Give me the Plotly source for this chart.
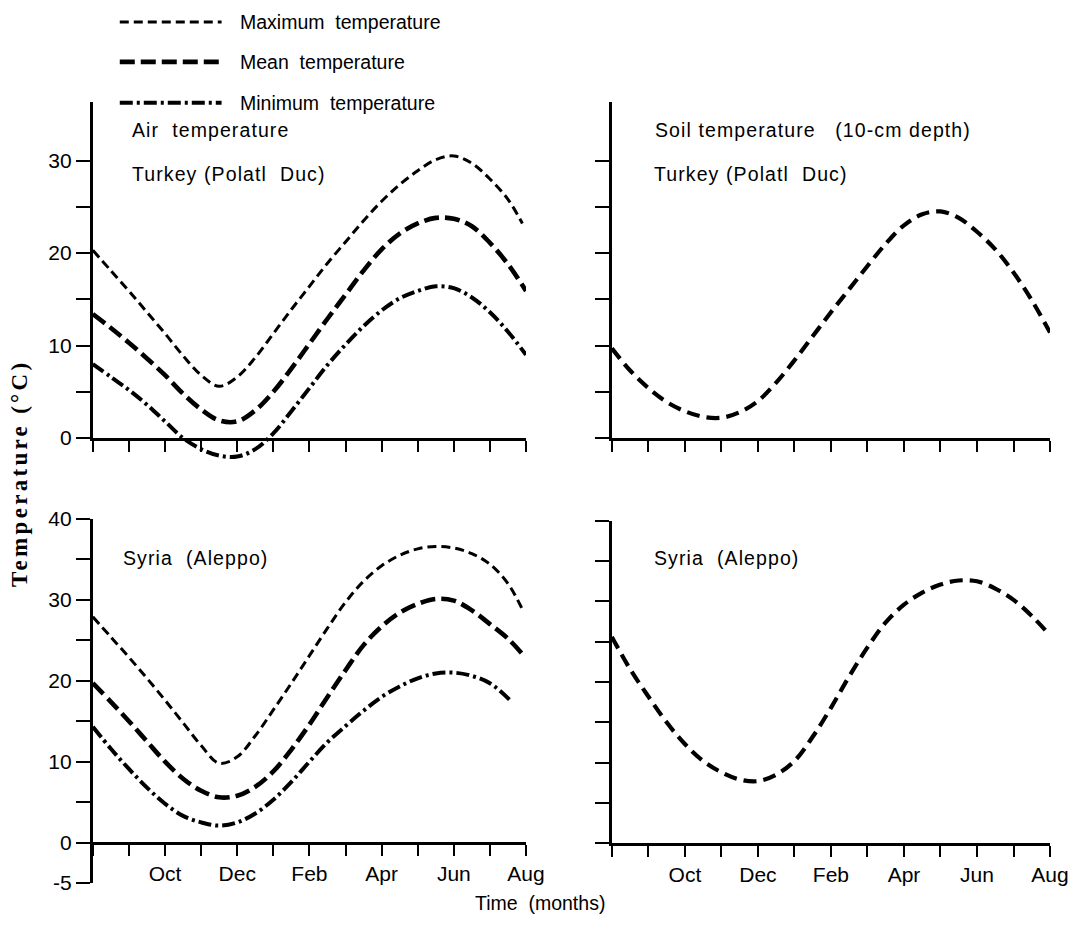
import plotly.graph_objects as go

# Month axis: 0 = August, 12 = the following August
months = list(range(13))
month_labels = ["", "", "Oct", "", "Dec", "", "Feb", "", "Apr", "", "Jun", "", "Aug"]

half = [i / 2 for i in range(25)]  # half-month sampling positions 0 .. 12

# Turkey (Polatl Duc) air temperature, deg C
tr_max_x = half[:24] + [11.9]
tr_max_y = [20.3, 18.1, 15.9, 13.6, 11.3, 8.9, 6.8, 5.6, 6.6, 8.7, 11.3, 13.9, 16.4,
            18.9, 21.2, 23.5, 25.6, 27.4, 28.9, 30.1, 30.5, 29.7, 28.0, 25.8, 23.2]
tr_mean_x = half
tr_mean_y = [13.4, 11.9, 10.3, 8.6, 6.8, 4.8, 3.1, 1.9, 1.8, 3.0, 5.0, 7.5, 10.2,
             12.9, 15.5, 18.1, 20.4, 22.1, 23.2, 23.8, 23.7, 22.9, 21.1, 18.8, 15.9]
tr_min_x = half
tr_min_y = [8.0, 6.6, 5.2, 3.6, 1.8, 0.0, -1.2, -1.9, -2.0, -1.2, 0.5, 2.9, 5.4,
            7.9, 10.1, 12.1, 13.8, 15.1, 15.9, 16.4, 16.2, 15.2, 13.6, 11.5, 9.0]

# Syria (Aleppo) air temperature, deg C
sy_max_x = half[:24] + [11.9]
sy_max_y = [27.9, 25.4, 22.9, 20.3, 17.6, 14.8, 12.0, 9.8, 10.6, 13.2, 16.4, 19.7, 23.1,
            26.5, 29.7, 32.3, 34.2, 35.5, 36.3, 36.6, 36.4, 35.7, 34.4, 32.0, 28.8]
sy_mean_x = half[:24] + [11.9]
sy_mean_y = [19.7, 17.4, 15.0, 12.5, 10.0, 7.9, 6.4, 5.6, 5.8, 6.9, 8.8, 11.5, 14.6,
             18.0, 21.3, 24.4, 26.7, 28.4, 29.5, 30.1, 29.9, 28.7, 27.0, 25.2, 23.3]
sy_min_x = half[:23] + [11.6]
sy_min_y = [14.3, 11.6, 9.1, 6.8, 4.8, 3.3, 2.5, 2.1, 2.5, 3.6, 5.3, 7.5, 10.0,
            12.4, 14.4, 16.3, 18.0, 19.3, 20.3, 20.9, 21.0, 20.6, 19.7, 17.4]

# Soil temperature at 10-cm depth, deg C
tr_soil_x = half
tr_soil_y = [9.7, 7.3, 5.4, 3.9, 2.9, 2.3, 2.2, 2.8, 4.0, 6.0, 8.4, 11.0, 13.6,
             16.1, 18.6, 21.0, 23.0, 24.2, 24.5, 23.8, 22.3, 20.4, 17.9, 14.9, 11.4]
sy_soil_x = half
sy_soil_y = [25.6, 21.6, 18.2, 15.0, 12.3, 10.2, 8.8, 7.9, 7.7, 8.5, 10.2, 13.2, 16.8,
             20.7, 24.3, 27.4, 29.6, 31.1, 32.1, 32.6, 32.5, 31.6, 30.2, 28.2, 25.8]

# Y tick values / labels
top_ticks = [0, 5, 10, 15, 20, 25, 30]
top_labels = ["0", "", "10", "", "20", "", "30"]
bottom_ticks = [-5, 0, 5, 10, 15, 20, 25, 30, 35, 40]
bottom_labels = ["-5", "0", "", "10", "", "20", "", "30", "", "40"]
soil_bottom_ticks = [0, 5, 10, 15, 20, 25, 30, 35, 40]

W, H = 1087, 931
# Drawing box used for placing elements (page pixels)
BOX_W, BOX_H, BOX_TOP = 1070, 910, 10
FONT = "Arial, Liberation Sans, sans-serif"

MAX_STYLE = dict(color="black", width=3.0, dash="9px,5px")
MEAN_STYLE = dict(color="black", width=4.6, dash="15px,6px")
MIN_STYLE = dict(color="black", width=4.0, dash="13px,4px,3px,4px")
SOIL_STYLE = dict(color="black", width=4.2, dash="13px,7px")


def px_x(p):
    return p / BOX_W


def px_y(p):
    return 1 - (p - BOX_TOP) / BOX_H


fig = go.Figure()


def add_line(x, y, style, xa, ya, name):
    fig.add_trace(go.Scatter(
        x=x, y=y, mode="lines", name=name, showlegend=False,
        line=dict(shape="spline", smoothing=1.0, **style),
        xaxis=xa, yaxis=ya, hoverinfo="skip"))


# Top-left air temperatures use an unseen companion y-axis on the same scale whose
# domain reaches below zero, so the minimum curve can dip under the x-axis.
add_line(tr_max_x, tr_max_y, MAX_STYLE, "x", "y", "Maximum temperature")
add_line(tr_mean_x, tr_mean_y, MEAN_STYLE, "x", "y5", "Mean temperature")
add_line(tr_min_x, tr_min_y, MIN_STYLE, "x", "y5", "Minimum temperature")
add_line(tr_soil_x, tr_soil_y, SOIL_STYLE, "x2", "y2", "Soil temperature")
add_line(sy_max_x, sy_max_y, MAX_STYLE, "x3", "y3", "Maximum temperature")
add_line(sy_mean_x, sy_mean_y, MEAN_STYLE, "x3", "y3", "Mean temperature")
add_line(sy_min_x, sy_min_y, MIN_STYLE, "x3", "y3", "Minimum temperature")
add_line(sy_soil_x, sy_soil_y, SOIL_STYLE, "x4", "y4", "Soil temperature")

TOP_Y0, TOP_Y1, TOP_MAX = 437, 100, 36.35
top_scale = (TOP_Y0 - TOP_Y1) / TOP_MAX  # pixels per degree
TOP_BELOW = 3.0

left_dom = [px_x(93), px_x(527)]
right_dom = [px_x(613), px_x(1052)]
top_dom = [px_y(TOP_Y0), px_y(TOP_Y1)]
top_ext_dom = [px_y(TOP_Y0 + TOP_BELOW * top_scale), px_y(TOP_Y1)]
bl_dom = [px_y(883), px_y(518)]
br_dom = [px_y(843), px_y(520)]

tickfont = dict(family=FONT, size=21, color="black")


def xaxis(domain, anchor, labels, **kw):
    return dict(domain=domain, range=[0, 12], anchor=anchor, showline=True,
                linewidth=3, linecolor="black", ticks="outside", ticklen=11,
                tickwidth=2, tickcolor="black", tickvals=months, ticktext=labels,
                showgrid=False, zeroline=False, tickfont=tickfont, **kw)


def yaxis(domain, anchor, rng, vals, labels):
    return dict(domain=domain, range=rng, anchor=anchor, showline=True,
                linewidth=3, linecolor="black", ticks="outside", ticklen=14,
                tickwidth=2, tickcolor="black", tickvals=vals, ticktext=labels,
                showgrid=False, zeroline=False, tickfont=tickfont)


blank = [""] * 13

layout = dict(
    width=W, height=H, autosize=False,
    margin=dict(l=0, r=0, t=0, b=0, pad=0),
    paper_bgcolor="white", plot_bgcolor="rgba(0,0,0,0)",
    showlegend=False,
    xaxis=xaxis(left_dom, "y", blank),
    yaxis=yaxis(top_dom, "x", [0, TOP_MAX], top_ticks, top_labels),
    yaxis5=dict(domain=top_ext_dom, range=[-TOP_BELOW, TOP_MAX], anchor="x",
                visible=False, showgrid=False, zeroline=False),
    xaxis2=xaxis(right_dom, "y2", blank),
    yaxis2=yaxis(top_dom, "x2", [0, TOP_MAX], top_ticks, [""] * 7),
    xaxis3=xaxis(left_dom, "free", month_labels, position=px_y(842.4)),
    yaxis3=yaxis(bl_dom, "x3", [-5, 40], bottom_ticks, bottom_labels),
    xaxis4=xaxis(right_dom, "y4", month_labels),
    yaxis4=yaxis(br_dom, "x4", [0, 40], soil_bottom_ticks, [""] * 9),
)
fig.update_layout(**layout)

# Legend: line samples drawn as shapes with matching dash patterns
legend_rows = [("Maximum temperature", MAX_STYLE, 20),
               ("Mean temperature", MEAN_STYLE, 60),
               ("Minimum temperature", MIN_STYLE, 101)]
for label, style, ypix in legend_rows:
    fig.add_shape(type="line", xref="paper", yref="paper",
                  x0=px_x(120), x1=px_x(222), y0=px_y(ypix), y1=px_y(ypix),
                  line=style)
    fig.add_annotation(text=label.replace(" ", "\u00a0 "), xref="paper", yref="paper",
                       x=px_x(238), y=px_y(ypix), xanchor="left", yanchor="middle",
                       showarrow=False, font=dict(family=FONT, size=19.5, color="black"))


def spaced(text, px):
    return '<span style="letter-spacing:%spx">%s</span>' % (px, text)


NB = "\u00a0"
panel_texts = [
    ("Air" + NB + " temperature", 130, 128),
    ("Turkey" + NB + "(Polatl" + NB + " Duc)", 130, 172),
    ("Soil" + NB + "temperature" + NB + NB + " (10-cm" + NB + "depth)", 654, 128),
    ("Turkey" + NB + "(Polatl" + NB + " Duc)", 653, 172),
    ("Syria" + NB + " (Aleppo)", 121, 557),
    ("Syria" + NB + " (Aleppo)", 653, 557),
]
for text, xp, yp in panel_texts:
    fig.add_annotation(text=spaced(text, 1.1), xref="paper", yref="paper",
                       x=px_x(xp), y=px_y(yp), xanchor="left", yanchor="middle",
                       showarrow=False, font=dict(family=FONT, size=19.5, color="black"))

fig.add_annotation(text=spaced("Temperature (°C)", 3.3), xref="paper", yref="paper",
                   x=px_x(20), y=px_y(472), xanchor="center", yanchor="middle",
                   textangle=-90, showarrow=False,
                   font=dict(family="Times New Roman, Liberation Serif, serif",
                             size=23, color="black", weight="bold"))
fig.add_annotation(text="Time" + NB + " (months)", xref="paper", yref="paper",
                   x=px_x(541), y=px_y(903), xanchor="center", yanchor="middle",
                   showarrow=False, font=dict(family=FONT, size=19.5, color="black"))

fig.write_html("out.html", config={"responsive": False, "displayModeBar": False})
